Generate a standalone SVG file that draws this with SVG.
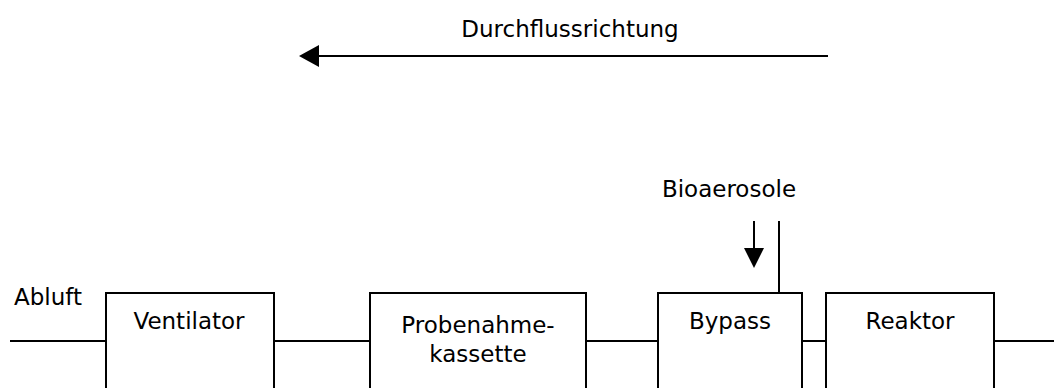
<svg xmlns="http://www.w3.org/2000/svg" width="1054" height="388" viewBox="0 0 1054 388">
<style>
.box{fill:#fff;stroke:#000;stroke-width:2}
.ln{stroke:#000;stroke-width:2;fill:none}
.t{font-family:"DejaVu Sans",sans-serif;font-size:23px;fill:#000}
.c{text-anchor:middle}
</style>
<rect width="1054" height="388" fill="#fff"/>
<g id="connectors">
<line class="ln" x1="10" y1="341" x2="106" y2="341"/>
<line class="ln" x1="274" y1="341" x2="370" y2="341"/>
<line class="ln" x1="586" y1="341" x2="658" y2="341"/>
<line class="ln" x1="802" y1="341" x2="826" y2="341"/>
<line class="ln" x1="994" y1="341" x2="1054" y2="341"/>
<line class="ln" x1="779" y1="221" x2="779" y2="293"/>
<line class="ln" x1="754" y1="221" x2="754" y2="252"/>
<polygon points="744,248 764,248 754,268" fill="#000"/>
<line class="ln" x1="828" y1="56" x2="315" y2="56"/>
<polygon points="299,56 319,45 319,67" fill="#000"/>
</g>
<g id="flow-label"><text class="t c" x="570" y="37">Durchflussrichtung</text></g>
<g id="bioaerosole-label"><text class="t c" x="729" y="197">Bioaerosole</text></g>
<g id="abluft-label"><text class="t" x="14" y="305">Abluft</text></g>
<g id="ventilator"><rect class="box" x="106" y="293" width="168" height="110"/><text class="t c" x="189" y="329">Ventilator</text></g>
<g id="probenahme"><rect class="box" x="370" y="293" width="216" height="110"/><text class="t c" x="478" y="333">Probenahme-</text><text class="t c" x="478" y="362">kassette</text></g>
<g id="bypass"><rect class="box" x="658" y="293" width="144" height="110"/><text class="t c" x="730" y="329">Bypass</text></g>
<g id="reaktor"><rect class="box" x="826" y="293" width="168" height="110"/><text class="t c" x="910" y="329">Reaktor</text></g>
</svg>
